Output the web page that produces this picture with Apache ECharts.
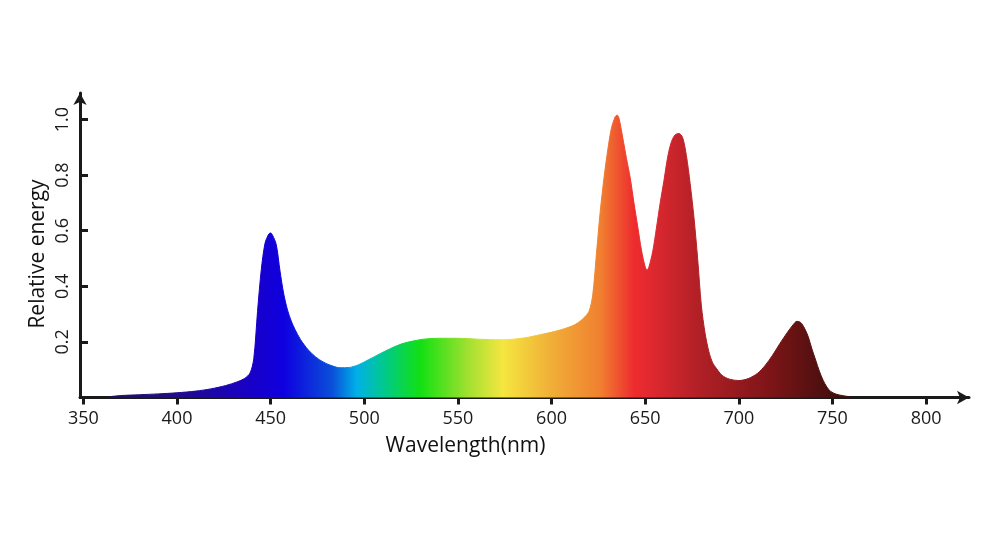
<!DOCTYPE html>
<html>
<head>
<meta charset="utf-8">
<script src="https://cdn.jsdelivr.net/npm/echarts@6/dist/echarts.min.js"></script>
<style>
html,body{margin:0;padding:0;background:#fff;}
#chart{width:1000px;height:552px;}
</style>
</head>
<body>
<div id="chart"></div>
<script>
// Wavelength (nm) and relative energy
var wavelengths = [364,370,380,390,400,410,418,426,432,436,439,441,443,445,447,449,450,451,453,455,457,459,461,463,466,470,474,478,482,487,492,497,502,508,514,520,526,532,540,550,560,570,578,586,594,602,608,613,617,620,622,624,626,628,630,632,634,635,636,638,640,642,644,646,648,650,651,652,654,656,658,660,662,664,666,668,670,672,674,676,678,680,682,684,686,688,691,695,700,705,710,714,718,722,726,729,731,733,735,737,739,741,743,745,747,749,752,756,762];
var energy = [0.003,0.007,0.010,0.013,0.017,0.023,0.031,0.043,0.056,0.068,0.088,0.14,0.31,0.46,0.555,0.588,0.592,0.584,0.55,0.455,0.372,0.315,0.275,0.245,0.208,0.172,0.146,0.128,0.116,0.107,0.108,0.118,0.135,0.156,0.176,0.193,0.203,0.210,0.213,0.213,0.210,0.208,0.209,0.215,0.226,0.238,0.250,0.264,0.285,0.31,0.37,0.52,0.67,0.79,0.89,0.97,1.01,1.016,1.005,0.935,0.86,0.79,0.70,0.615,0.53,0.47,0.458,0.47,0.525,0.61,0.70,0.78,0.865,0.92,0.945,0.950,0.935,0.87,0.77,0.65,0.50,0.33,0.23,0.165,0.125,0.105,0.08,0.066,0.061,0.068,0.087,0.115,0.152,0.195,0.235,0.262,0.274,0.270,0.25,0.22,0.175,0.135,0.095,0.062,0.038,0.022,0.012,0.006,0.0];
var xTicks = [350,400,450,500,550,600,650,700,750,800];
var yTicks = [0.2,0.4,0.6,0.8,1.0];
// spectrum colour stops: [wavelength, colour]
var colorStops = [[364,'#1e0f5c'],[400,'#220c8a'],[440,'#1800c8'],[457,'#0f00e0'],[483,'#0a50d8'],[496,'#00b0e8'],[510,'#00c890'],[530,'#12e012'],[555,'#a0e030'],[574,'#f5e640'],[599,'#f0b038'],[626,'#f08030'],[644,'#ee2c2e'],[653,'#e02830'],[679,'#b02026'],[715,'#801518'],[742,'#521010'],[762,'#3a0a0a']];

var points = wavelengths.map(function(w,i){return [w, energy[i]];});
var wMin = wavelengths[0], wMax = wavelengths[wavelengths.length-1];
var gradStops = colorStops.map(function(c){return {offset:(c[0]-wMin)/(wMax-wMin), color:c[1]};});

var chart = echarts.init(document.getElementById('chart'), null, {renderer:'canvas'});
var font = '"Open Sans", "Noto Sans", sans-serif';
var axisColor = '#1a1a1a';
chart.setOption({
  animation:false,
  backgroundColor:'#ffffff',
  grid:{left:80, right:31, top:93, bottom:154.5, containLabel:false},
  xAxis:{
    type:'value', min:348.2, max:822.9,
    axisLine:{show:true, lineStyle:{color:axisColor, width:3}, symbol:['none','arrow'], symbolSize:[10,12]},
    axisTick:{show:true, inside:false, length:7, lineStyle:{color:axisColor, width:3}, customValues:xTicks},
    axisLabel:{show:true, margin:12, fontSize:18, color:'#1a1a1a', fontFamily:font, customValues:xTicks},
    splitLine:{show:false}
  },
  yAxis:{
    type:'value', min:0, max:1.0955,
    axisLine:{show:true, lineStyle:{color:axisColor, width:3}, symbol:['none','arrow'], symbolSize:[10,12]},
    axisTick:{show:true, inside:true, length:8, lineStyle:{color:axisColor, width:3}, customValues:yTicks},
    axisLabel:{show:true, rotate:90, margin:8, fontSize:18, color:'#1a1a1a', fontFamily:font, customValues:yTicks,
      formatter:function(v){return v.toFixed(1);}},
    splitLine:{show:false}
  },
  graphic:[
    {type:'text', x:465.5, y:446, style:{text:'Wavelength(nm)', fontSize:21, fontFamily:font, fill:'#111', align:'center', verticalAlign:'middle'}},
    {type:'text', x:38, y:254, rotation:Math.PI/2, style:{text:'Relative energy', fontSize:21, fontFamily:font, fill:'#111', align:'center', verticalAlign:'middle'}}
  ],
  series:[{
    type:'line', data:points, showSymbol:false, smooth:0.3,
    lineStyle:{width:1, color:new echarts.graphic.LinearGradient(0,0,1,0,gradStops)}, z:1,
    areaStyle:{opacity:1, color:new echarts.graphic.LinearGradient(0,0,1,0,gradStops)}
  }]
});
</script>
</body>
</html>
